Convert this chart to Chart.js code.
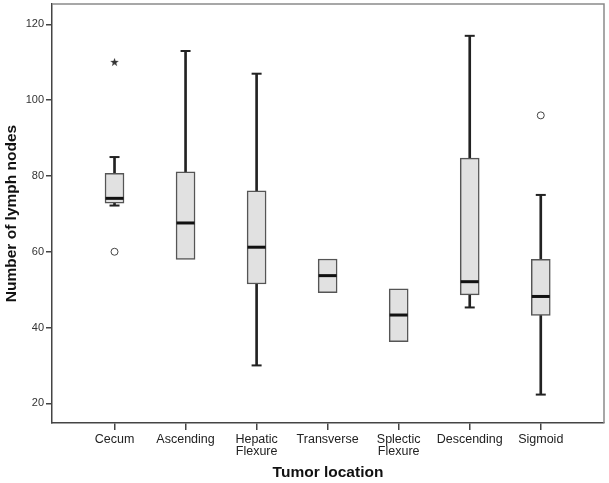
<!DOCTYPE html>
<html>
<head>
<meta charset="utf-8">
<script src="https://cdn.jsdelivr.net/npm/chart.js@4/dist/chart.umd.min.js"></script>
<style>
  html, body { margin: 0; padding: 0; background: #fff; }
  #wrap { width: 609px; height: 483px; position: relative; }
</style>
</head>
<body>
<div id="wrap"><canvas id="c"></canvas></div>
<script>
// ---- data ----
const categories = ['Cecum', 'Ascending', 'Hepatic\nFlexure', 'Transverse', 'Splectic\nFlexure', 'Descending', 'Sigmoid'];
const whiskerLow  = [72.2, 58,   30,   49.2, 36.3, 45.3, 22.3];
const q1          = [72.8, 58,   51.5, 49.2, 36.3, 48.6, 43.2];
const median      = [74.1, 67.6, 61.2, 53.7, 43.3, 52.1, 48.2];
const q3          = [80.7, 81.1, 76.1, 58.1, 50.2, 84.7, 58];
const whiskerHigh = [85,   113,  107,  58.1, 50.2, 117,  75];
const outlierCat  = [0, 6];
const outlierVal  = [60, 96];
const extremeCat  = [0];
const extremeVal  = [110];
const yTicks      = [20, 40, 60, 80, 100, 120];

const FONT = "'Liberation Sans', Arial, sans-serif";

function makeStar(size) {
  const c = document.createElement('canvas');
  c.width = c.height = size;
  const g = c.getContext('2d');
  g.fillStyle = '#333';
  g.beginPath();
  for (let k = 0; k < 10; k++) {
    const r = k % 2 ? size * 0.2 : size * 0.5;
    const a = -Math.PI / 2 + k * Math.PI / 5;
    g.lineTo(size / 2 + r * Math.cos(a), size / 2 + r * Math.sin(a));
  }
  g.closePath();
  g.fill();
  return c;
}

// whisker stems only where the whisker extends beyond the box
const lowStems = [], highStems = [], caps = [];
categories.forEach((_, i) => {
  if (whiskerLow[i] < q1[i]) {
    lowStems.push({ x: i, y: [whiskerLow[i], q1[i]] });
    caps.push({ x: i, y: whiskerLow[i] });
  }
  if (whiskerHigh[i] > q3[i]) {
    highStems.push({ x: i, y: [q3[i], whiskerHigh[i]] });
    caps.push({ x: i, y: whiskerHigh[i] });
  }
});
const boxes = categories.map((_, i) => ({ x: i, y: [q1[i], q3[i]] }));
const medians = categories.map((_, i) => ({ x: i, y: median[i] }));
const outliers = outlierCat.map((c, i) => ({ x: c, y: outlierVal[i] }));
const extremes = extremeCat.map((c, i) => ({ x: c, y: extremeVal[i] }));

const framePlugin = {
  id: 'frame',
  beforeDatasetsDraw(chart) {
    const { ctx, chartArea: a } = chart;
    ctx.save();
    ctx.strokeStyle = '#8a8a8a';
    ctx.lineWidth = 1.5;
    ctx.beginPath();
    ctx.moveTo(a.left, a.top);
    ctx.lineTo(a.right, a.top);
    ctx.lineTo(a.right, a.bottom);
    ctx.stroke();
    ctx.restore();
  }
};

new Chart(document.getElementById('c'), {
  type: 'bar',
  data: {
    datasets: [
      { type: 'bar', data: lowStems, barThickness: 2, backgroundColor: '#222', grouped: false, order: 5 },
      { type: 'bar', data: highStems, barThickness: 2, backgroundColor: '#222', grouped: false, order: 5 },
      { type: 'bar', data: boxes, barThickness: 19, backgroundColor: '#e1e1e1', borderColor: '#555',
        borderWidth: 1.5, borderSkipped: false, grouped: false, order: 4 },
      { type: 'scatter', data: caps, pointStyle: 'line', radius: 5, borderWidth: 2, borderColor: '#222', order: 3 },
      { type: 'scatter', data: medians, pointStyle: 'line', radius: 9, borderWidth: 3, borderColor: '#111', order: 1 },
      { type: 'scatter', data: outliers, pointStyle: 'circle', radius: 3.5, backgroundColor: '#fff',
        borderColor: '#444', borderWidth: 1, order: 0 },
      { type: 'scatter', data: extremes, pointStyle: makeStar(9), order: 0 }
    ]
  },
  options: {
    responsive: true,
    maintainAspectRatio: false,
    animation: false,
    layout: { autoPadding: false, padding: { left: 0, right: 5, top: 4, bottom: 0 } },
    plugins: { legend: { display: false }, tooltip: { enabled: false } },
    scales: {
      x: {
        type: 'linear',
        offset: false,
        min: -0.88,
        max: 6.89,
        afterBuildTicks: s => { s.ticks = categories.map((_, i) => ({ value: i })); },
        afterFit: s => { s.height = 60; s.paddingLeft = 0; s.paddingRight = 0; },
        ticks: {
          callback: (v, idx) => categories[idx].split('\n'),
          font: { family: FONT, size: 12.5, lineHeight: 0.98 },
          color: '#222',
          padding: 3,
          maxRotation: 0,
          autoSkip: false
        },
        grid: { offset: false, drawOnChartArea: false, drawTicks: true, tickLength: 7, color: '#444', lineWidth: 1.5 },
        border: { display: true, color: '#444', width: 1.5 },
        title: {
          display: true, text: 'Tumor location', color: '#111',
          font: { family: FONT, size: 15.5, weight: 'bold' },
          padding: { top: 0, bottom: 1 }
        }
      },
      y: {
        type: 'linear',
        min: 14.8,
        max: 125.4,
        afterBuildTicks: s => { s.ticks = yTicks.map(v => ({ value: v })); },
        afterFit: s => { s.width = 52; s.paddingTop = 0; s.paddingBottom = 0; },
        ticks: { font: { family: FONT, size: 11 }, color: '#333', padding: 2 },
        grid: { drawOnChartArea: false, drawTicks: true, tickLength: 6, color: '#444', lineWidth: 1.5 },
        border: { display: true, color: '#444', width: 1.5 },
        title: {
          display: true, text: 'Number of lymph nodes', color: '#111',
          font: { family: FONT, size: 15.5, weight: 'bold' },
          padding: { top: 2, bottom: 0 }
        }
      }
    }
  },
  plugins: [framePlugin]
});
</script>
</body>
</html>
